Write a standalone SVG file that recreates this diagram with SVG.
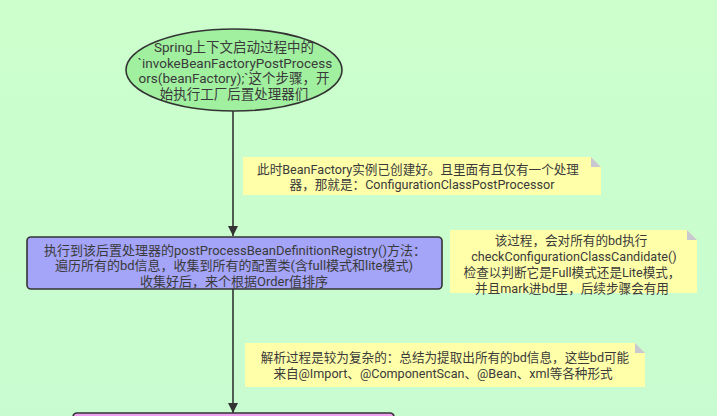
<svg xmlns="http://www.w3.org/2000/svg" width="717" height="416" viewBox="0 0 717 416">
<defs>
<linearGradient id="bg" x1="0" y1="0" x2="0" y2="1">
<stop offset="0" stop-color="#ccffcc"/>
<stop offset="1" stop-color="#c8fcd0"/>
</linearGradient>
<marker id="arr" markerWidth="10" markerHeight="14" refX="10" refY="5" orient="auto" markerUnits="userSpaceOnUse" viewBox="0 0 10 10">
<path d="M0,0 L10,5 L0,10 Z" fill="#333"/>
</marker>
<style>
text{font-family:Roboto,"Noto Sans CJK SC",sans-serif;fill:#3a3a3a;text-anchor:middle}
.t13{font-size:13.5px}
.t12{font-size:12.6px}
.tb{font-size:13px}
.note{fill:#ffffaa}
.fold{fill:#c8c8d0}
.edge{stroke:#333;stroke-width:1.6;fill:none}
</style>
</defs>
<rect width="717" height="416" fill="url(#bg)"/>
<g id="connectors">
<line class="edge" x1="233" y1="111" x2="233" y2="236" marker-end="url(#arr)"/>
<line class="edge" x1="233" y1="289" x2="233" y2="413" marker-end="url(#arr)"/>
</g>
<g id="start">
<ellipse cx="234" cy="70" rx="108" ry="41" fill="#a0f0a0" stroke="#333" stroke-width="1.6"/>
<text class="t13" x="234" y="52">Spring上下文启动过程中的</text>
<text class="t13" x="235" y="67.5">`invokeBeanFactoryPostProcess</text>
<text class="t13" x="234" y="83">ors(beanFactory);`这个步骤，开</text>
<text class="t13" x="234" y="98.5">始执行工厂后置处理器们</text>
</g>
<g id="note1">
<path class="note" d="M243,157 H591 L601,167 V195 H243 Z"/>
<path class="fold" d="M591,157 L601,167 H591 Z"/>
<text class="t12" x="418" y="173.5">此时BeanFactory实例已创建好。且里面有且仅有一个处理</text>
<text class="t12" x="422" y="188.5">器，那就是：ConfigurationClassPostProcessor</text>
</g>
<g id="registry">
<rect x="27" y="237" width="415" height="52" rx="4" fill="#a4a4f8" stroke="#333" stroke-width="1.6"/>
<text class="tb" x="235" y="254.5">执行到该后置处理器的postProcessBeanDefinitionRegistry()方法：</text>
<text class="tb" x="234" y="270">遍历所有的bd信息，收集到所有的配置类(含full模式和lite模式)</text>
<text class="tb" x="234" y="285.5">收集好后，来个根据Order值排序</text>
</g>
<g id="note2">
<path class="note" d="M450,230 H687 L697,240 V293 H450 Z"/>
<path class="fold" d="M687,230 L697,240 H687 Z"/>
<text class="t12" x="571" y="244.5">该过程，会对所有的bd执行</text>
<text class="t12" x="574" y="261">checkConfigurationClassCandidate()</text>
<text class="t12" x="572" y="277">检查以判断它是Full模式还是Lite模式，</text>
<text class="t12" x="572" y="292.5">并且mark进bd里，后续步骤会有用</text>
</g>
<g id="note3">
<path class="note" d="M245,343 H635 L645,353 V387 H245 Z"/>
<path class="fold" d="M635,343 L645,353 H635 Z"/>
<text class="t12" x="445" y="361.5">解析过程是较为复杂的：总结为提取出所有的bd信息，这些bd可能</text>
<text class="t12" x="443" y="377.5">来自@Import、@ComponentScan、@Bean、xml等各种形式</text>
</g>
<g id="parse">
<rect x="73" y="413" width="321" height="20" rx="4" fill="#f0a0f0" stroke="#333" stroke-width="1.6"/>
</g>
</svg>
